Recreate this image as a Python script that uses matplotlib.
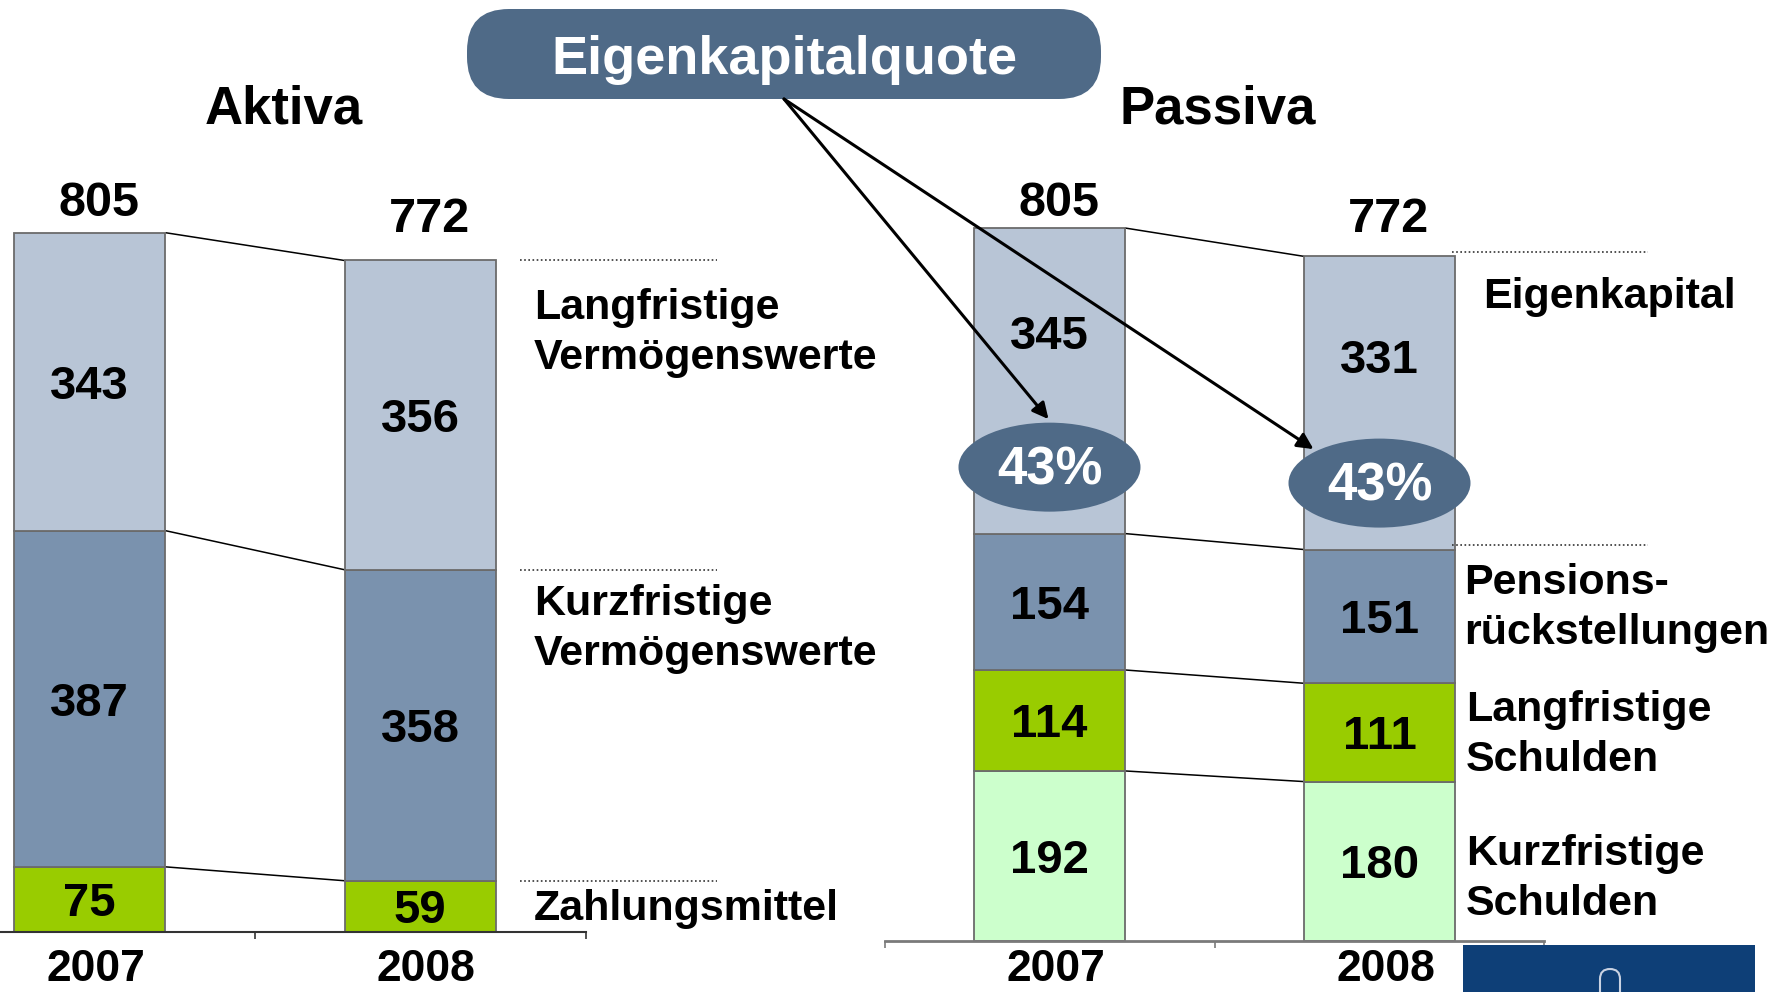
import matplotlib
matplotlib.use('Agg')
import matplotlib.pyplot as plt
import numpy as np
from matplotlib.patches import Ellipse, FancyBboxPatch, Rectangle, FancyArrowPatch
from matplotlib.transforms import Affine2D, blended_transform_factory, ScaledTranslation

# ---------------- data ----------------
years = ['2007', '2008']

aktiva_labels = ['Zahlungsmittel', 'Kurzfristige\nVermögenswerte', 'Langfristige\nVermögenswerte']
aktiva_zahlungsmittel = [75, 59]
aktiva_kurzfristig = [387, 358]
aktiva_langfristig = [343, 356]
aktiva_total = [805, 772]

passiva_labels = ['Kurzfristige\nSchulden', 'Langfristige\nSchulden', 'Pensions-\nrückstellungen', 'Eigenkapital']
passiva_kurz_schulden = [192, 180]
passiva_lang_schulden = [114, 111]
passiva_pension = [154, 151]
passiva_eigenkapital = [345, 331]
passiva_total = [805, 772]

ek_quote = ['43%', '43%']

# ---------------- style ----------------
W, H = 1782, 992
plt.rcParams['font.family'] = ['Liberation Sans', 'DejaVu Sans']
plt.rcParams['font.weight'] = 'bold'

C_LIGHT = '#B8C5D6'
C_MID = '#7A92AE'
C_GREEN = '#99CC00'
C_LGREEN = '#CCFFCC'
C_DARK = '#4F6A87'
EDGE = '#6b6b6b'
BAR_W = 0.458

fig = plt.figure(figsize=(W / 100, H / 100), dpi=100)
fig.patch.set_facecolor('white')
PX = Affine2D().scale(1 / W, -1 / H).translate(0, 1) + fig.transFigure


def ftext(x, y, s, **kw):
    kw.setdefault('fontweight', 'bold')
    return fig.text(x / W, 1 - y / H, s, **kw)


def make_axes(left, bottom, width, height, spine_color, spine_lw):
    ax = fig.add_axes([left / W, (H - bottom) / H, width / W, height / H])
    ax.set_facecolor('none')
    ax.set_xlim(-0.5, 1.5)
    ax.set_ylim(0, 1000)
    for s in ['top', 'left', 'right']:
        ax.spines[s].set_visible(False)
    ax.spines['bottom'].set_color(spine_color)
    ax.spines['bottom'].set_linewidth(spine_lw)
    ax.set_yticks([])
    ax.set_xticks([0, 1])
    ax.set_xticklabels([])
    ax.tick_params(axis='x', which='major', length=0)
    ax.set_xticks([-0.5, 0.5, 1.5], minor=True)
    ax.tick_params(axis='x', which='minor', length=5, width=1.2,
                   color=spine_color, direction='out')
    return ax


def to_px(ax, x, y):
    d = ax.transData.transform((x, y))
    return d[0], H - d[1]


def draw_stack(ax, segments, colors, top_frac=None):
    x = np.arange(len(years))
    bottoms = np.zeros(len(years))
    tops = []
    n = len(segments)
    down = ScaledTranslation(0, -5 / 100, fig.dpi_scale_trans)
    for k, (vals, c) in enumerate(zip(segments, colors)):
        vals = np.asarray(vals, dtype=float)
        ax.bar(x, vals, BAR_W, bottom=bottoms, color=c, edgecolor=EDGE,
               linewidth=1.3, zorder=2)
        frac = 0.5
        if top_frac is not None and k == n - 1:
            frac = top_frac
        for xi, b, v in zip(x, bottoms, vals):
            ax.text(xi, b + v * frac, f'{int(v)}', ha='center', va='center',
                    fontsize=34, fontweight='bold', color='black', zorder=4,
                    transform=ax.transData + down)
        bottoms = bottoms + vals
        tops.append(bottoms.copy())
    # connector lines between the two columns
    for t in tops:
        ax.plot([BAR_W / 2, 1 - BAR_W / 2], [t[0], t[1]], color='black',
                lw=1.1, zorder=1, solid_capstyle='butt')
    return tops


# ---------------- Aktiva ----------------
ax_a = make_axes(-75.5, 932, 661, 868.7, '#333333', 1.5)
tops_a = draw_stack(ax_a, [aktiva_zahlungsmittel, aktiva_kurzfristig, aktiva_langfristig],
                    [C_GREEN, C_MID, C_LIGHT])

# ---------------- Passiva ----------------
ax_p = make_axes(884.5, 941, 660, 885.7, '#7a7a7a', 2.0)
tops_p = draw_stack(ax_p, [passiva_kurz_schulden, passiva_lang_schulden,
                           passiva_pension, passiva_eigenkapital],
                    [C_LGREEN, C_GREEN, C_MID, C_LIGHT], top_frac=0.66)

# dotted guide lines
tr_a = blended_transform_factory(fig.transFigure, ax_a.transData)
for t in tops_a:
    ax_a.plot([520 / W, 717 / W], [t[1], t[1]], transform=tr_a, clip_on=False,
              color='#333333', lw=1.2, ls=(0, (1, 1.5)))
tr_p = blended_transform_factory(fig.transFigure, ax_p.transData)
for t in tops_p[2:]:
    ax_p.plot([1452 / W, 1648 / W], [t[1] + 5, t[1] + 5], transform=tr_p,
              clip_on=False, color='#333333', lw=1.2, ls=(0, (1, 1.5)))

# totals and years
total_y = [203, 220]
for ax, totals in [(ax_a, aktiva_total), (ax_p, passiva_total)]:
    for i, (yr, tot) in enumerate(zip(years, totals)):
        cx, _ = to_px(ax, i, 0)
        ftext(cx + 9, total_y[i], f'{tot}', ha='center', va='center', fontsize=35)
        ftext(cx + 6, 981, yr, ha='center', va='baseline', fontsize=32)

# headings
ftext(284, 109, 'Aktiva', ha='center', va='center', fontsize=38)
ftext(1218, 109, 'Passiva', ha='center', va='center', fontsize=38)

# side labels
side_a = [(534, 909), (534, 629), (534, 333)]
for (x, y), lab in zip(side_a, aktiva_labels):
    ftext(x, y, lab, ha='left', va='center', fontsize=31, linespacing=1.3)
side_p = [(1466, 879), (1466, 735), (1464, 608), (1483, 297)]
for (x, y), lab in zip(side_p, passiva_labels):
    ftext(x, y, lab, ha='left', va='center', fontsize=31, linespacing=1.3)

# Eigenkapitalquote box
box = FancyBboxPatch((467, 9), 634, 90, boxstyle='round,pad=0,rounding_size=42',
                     transform=PX, facecolor=C_DARK, edgecolor='none', zorder=5)
fig.add_artist(box)
ftext(784, 60, 'Eigenkapitalquote', ha='center', va='center', fontsize=39,
      color='white', zorder=6)

# ellipses with quota + arrows
ell_offsets = [(-1, -48), (-66, -34)]
for i, q in enumerate(ek_quote):
    cx, cy = to_px(ax_p, i, tops_p[2][i] + 75)
    e = Ellipse((cx, cy), 182, 89, transform=PX, facecolor=C_DARK,
                edgecolor='none', zorder=5)
    fig.add_artist(e)
    ftext(cx, cy + 3, q, ha='center', va='center', fontsize=38, color='white', zorder=6)
    dx, dy = ell_offsets[i]
    arr = FancyArrowPatch((784, 99), (cx + dx, cy + dy), transform=PX,
                          arrowstyle='-|>', mutation_scale=24, lw=2.2,
                          color='black', shrinkA=0, shrinkB=0, zorder=7)
    fig.add_artist(arr)

# logo fragment bottom right
fig.add_artist(Rectangle((1463, 945), 292, 60, transform=PX,
                         facecolor='#0E3F77', edgecolor='none', zorder=5))
fig.add_artist(FancyBboxPatch((1600, 969), 20, 60, boxstyle='round,pad=0,rounding_size=10',
                              transform=PX, facecolor='none', edgecolor='#c9d2e2',
                              lw=1.5, zorder=6))

fig.savefig('out.png', dpi=100)
